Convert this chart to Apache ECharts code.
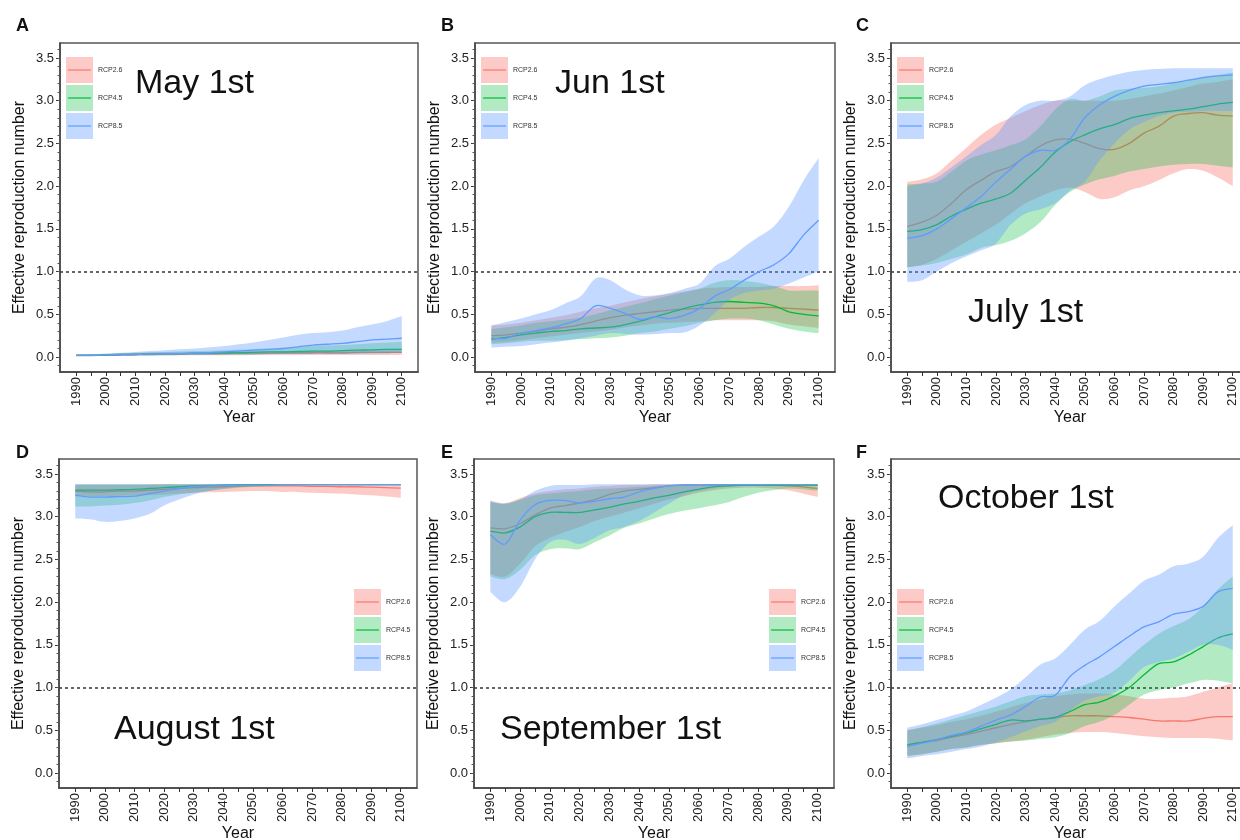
<!DOCTYPE html>
<html>
<head>
<meta charset="utf-8">
<script src="https://cdn.jsdelivr.net/npm/echarts@6/dist/echarts.min.js"></script>
<style>
  html, body { margin: 0; background: #fff; }
  #main { width: 1240px; height: 840px; }
</style>
</head>
<body>
<div id="main"></div>
<script>
// years sampled every 5 years
const years = [1990,1995,2000,2005,2010,2015,2020,2025,2030,2035,2040,2045,2050,2055,2060,2065,2070,2075,2080,2085,2090,2095,2100];
const xTicks = [1990,1995,2000,2005,2010,2015,2020,2025,2030,2035,2040,2045,2050,2055,2060,2065,2070,2075,2080,2085,2090,2095,2100];
const xLabels = [1990,2000,2010,2020,2030,2040,2050,2060,2070,2080,2090,2100];
const yLabels = [0,0.5,1,1.5,2,2.5,3,3.5];
const yMinor = [-0.1,0,0.1,0.2,0.3,0.4,0.5,0.6,0.7,0.8,0.9,1,1.1,1.2,1.3,1.4,1.5,1.6,1.7,1.8,1.9,2,2.1,2.2,2.3,2.4,2.5,2.6,2.7,2.8,2.9,3,3.1,3.2,3.3,3.4,3.5,3.6];
const scenarios = ['RCP2.6', 'RCP4.5', 'RCP8.5'];

// A - May 1st
const a26Mid = [0.02,0.02,0.02,0.025,0.03,0.03,0.035,0.035,0.04,0.04,0.04,0.045,0.045,0.045,0.05,0.05,0.05,0.05,0.05,0.055,0.055,0.055,0.055];
const a26Lo  = [0.01,0.01,0.015,0.015,0.015,0.02,0.02,0.02,0.02,0.02,0.02,0.02,0.025,0.025,0.025,0.025,0.025,0.025,0.025,0.025,0.025,0.025,0.025];
const a26Hi  = [0.03,0.03,0.035,0.04,0.045,0.05,0.055,0.055,0.06,0.06,0.065,0.065,0.065,0.07,0.07,0.07,0.075,0.075,0.075,0.075,0.08,0.08,0.08];
const a45Mid = [0.02,0.02,0.025,0.03,0.03,0.035,0.04,0.04,0.045,0.045,0.05,0.05,0.055,0.06,0.06,0.065,0.07,0.07,0.075,0.08,0.085,0.09,0.09];
const a45Lo  = [0.01,0.01,0.015,0.015,0.02,0.02,0.02,0.025,0.025,0.025,0.03,0.03,0.03,0.035,0.035,0.035,0.04,0.04,0.04,0.045,0.045,0.045,0.05];
const a45Hi  = [0.03,0.035,0.04,0.045,0.05,0.055,0.06,0.065,0.07,0.075,0.08,0.085,0.095,0.1,0.11,0.12,0.13,0.135,0.14,0.15,0.16,0.17,0.18];
const a85Mid = [0.02,0.02,0.025,0.03,0.03,0.035,0.04,0.04,0.045,0.05,0.06,0.07,0.08,0.09,0.1,0.12,0.14,0.15,0.16,0.18,0.2,0.21,0.22];
const a85Lo  = [0.01,0.01,0.015,0.015,0.02,0.02,0.02,0.025,0.025,0.025,0.03,0.03,0.03,0.035,0.035,0.035,0.04,0.04,0.04,0.04,0.045,0.045,0.05];
const a85Hi  = [0.03,0.035,0.04,0.05,0.06,0.07,0.08,0.09,0.1,0.115,0.13,0.15,0.17,0.2,0.23,0.26,0.28,0.29,0.31,0.35,0.38,0.42,0.48];

// B - Jun 1st
const b26Mid = [0.25,0.26,0.28,0.3,0.33,0.35,0.38,0.42,0.46,0.49,0.51,0.53,0.55,0.56,0.57,0.57,0.57,0.57,0.58,0.58,0.57,0.56,0.55];
const b26Lo  = [0.17,0.18,0.2,0.22,0.24,0.26,0.28,0.3,0.32,0.35,0.37,0.39,0.4,0.41,0.42,0.43,0.43,0.43,0.43,0.42,0.38,0.36,0.34];
const b26Hi  = [0.37,0.38,0.4,0.43,0.46,0.49,0.53,0.57,0.6,0.64,0.68,0.71,0.74,0.77,0.8,0.81,0.82,0.82,0.82,0.83,0.83,0.83,0.84];
const b45Mid = [0.21,0.23,0.26,0.28,0.3,0.31,0.33,0.34,0.35,0.38,0.42,0.47,0.52,0.57,0.61,0.64,0.65,0.64,0.63,0.6,0.53,0.5,0.48];
const b45Lo  = [0.15,0.16,0.18,0.19,0.19,0.2,0.21,0.22,0.23,0.25,0.28,0.3,0.33,0.36,0.4,0.43,0.45,0.45,0.43,0.38,0.33,0.3,0.28];
const b45Hi  = [0.33,0.35,0.37,0.4,0.42,0.44,0.46,0.5,0.55,0.59,0.63,0.68,0.72,0.76,0.8,0.87,0.9,0.89,0.87,0.83,0.78,0.78,0.78];
const b85Mid = [0.22,0.22,0.28,0.31,0.34,0.39,0.45,0.6,0.57,0.51,0.44,0.47,0.45,0.49,0.57,0.71,0.79,0.9,1.0,1.08,1.21,1.43,1.6];
const b85Lo  = [0.11,0.12,0.13,0.15,0.17,0.19,0.22,0.25,0.28,0.27,0.26,0.27,0.28,0.29,0.37,0.51,0.67,0.75,0.78,0.8,0.86,0.93,1.0];
const b85Hi  = [0.37,0.41,0.45,0.5,0.55,0.63,0.71,0.92,0.9,0.79,0.72,0.72,0.75,0.8,0.86,1.06,1.15,1.29,1.41,1.53,1.76,2.07,2.33];

// C - July 1st
const c26Mid = [1.53,1.58,1.66,1.8,1.96,2.07,2.17,2.23,2.35,2.47,2.54,2.55,2.5,2.44,2.43,2.5,2.62,2.7,2.82,2.85,2.86,2.83,2.82];
const c26Lo  = [1.05,1.08,1.15,1.25,1.35,1.45,1.55,1.68,1.8,1.88,1.95,1.98,1.93,1.85,1.87,1.95,2.0,2.07,2.15,2.2,2.18,2.1,2.0];
const c26Hi  = [2.05,2.08,2.15,2.3,2.45,2.6,2.72,2.8,2.88,2.95,3.0,3.0,3.0,3.0,3.0,3.02,3.05,3.08,3.12,3.16,3.2,3.22,3.25];
const c45Mid = [1.47,1.49,1.55,1.65,1.73,1.8,1.85,1.92,2.07,2.22,2.4,2.52,2.6,2.67,2.72,2.79,2.83,2.86,2.88,2.9,2.93,2.96,2.98];
const c45Lo  = [1.05,1.07,1.1,1.15,1.2,1.28,1.31,1.36,1.45,1.58,1.78,1.93,2.02,2.08,2.12,2.17,2.2,2.23,2.25,2.26,2.26,2.24,2.22];
const c45Hi  = [2.02,2.03,2.05,2.17,2.3,2.37,2.42,2.48,2.55,2.7,2.9,3.02,3.0,3.05,3.12,3.14,3.15,3.17,3.2,3.24,3.28,3.3,3.33];
const c85Mid = [1.39,1.42,1.5,1.62,1.75,1.88,2.05,2.2,2.35,2.42,2.42,2.55,2.8,2.95,3.05,3.12,3.17,3.19,3.21,3.24,3.27,3.29,3.3];
const c85Lo  = [0.88,0.9,1.0,1.1,1.18,1.25,1.33,1.55,1.68,1.73,1.8,1.95,2.05,2.3,2.5,2.66,2.75,2.82,2.86,2.87,2.88,2.88,2.88];
const c85Hi  = [2.0,2.03,2.1,2.22,2.35,2.48,2.6,2.82,2.95,3.0,3.0,3.05,3.18,3.25,3.3,3.34,3.36,3.37,3.38,3.38,3.38,3.38,3.38];

// D - August 1st
const d26Mid = [3.3,3.29,3.29,3.3,3.3,3.31,3.32,3.33,3.34,3.345,3.35,3.355,3.36,3.36,3.36,3.36,3.355,3.355,3.35,3.35,3.345,3.34,3.335];
const d26Lo  = [3.25,3.24,3.24,3.245,3.25,3.255,3.26,3.27,3.28,3.285,3.29,3.295,3.3,3.3,3.29,3.29,3.28,3.275,3.27,3.26,3.25,3.235,3.22];
const d26Hi  = [3.37,3.37,3.37,3.37,3.37,3.375,3.38,3.38,3.38,3.38,3.38,3.38,3.38,3.38,3.38,3.38,3.38,3.38,3.38,3.375,3.375,3.37,3.37];
const d45Mid = [3.31,3.31,3.31,3.315,3.32,3.33,3.34,3.35,3.36,3.365,3.37,3.375,3.375,3.375,3.375,3.375,3.375,3.375,3.375,3.375,3.375,3.375,3.375];
const d45Lo  = [3.12,3.12,3.13,3.14,3.16,3.19,3.23,3.26,3.28,3.3,3.32,3.34,3.35,3.36,3.37,3.37,3.37,3.37,3.37,3.37,3.37,3.37,3.37];
const d45Hi  = [3.38,3.38,3.38,3.38,3.38,3.38,3.38,3.38,3.38,3.38,3.38,3.38,3.38,3.38,3.38,3.38,3.38,3.38,3.38,3.38,3.38,3.38,3.38];
const d85Mid = [3.25,3.23,3.23,3.235,3.24,3.27,3.3,3.33,3.35,3.36,3.37,3.37,3.37,3.37,3.375,3.375,3.375,3.375,3.375,3.375,3.375,3.375,3.375];
const d85Lo  = [2.98,2.97,2.94,2.95,2.98,3.03,3.13,3.2,3.26,3.3,3.33,3.35,3.36,3.365,3.37,3.37,3.37,3.37,3.37,3.37,3.37,3.37,3.37];
const d85Hi  = [3.38,3.38,3.38,3.38,3.38,3.38,3.38,3.38,3.38,3.38,3.38,3.38,3.38,3.38,3.38,3.38,3.38,3.38,3.38,3.38,3.38,3.38,3.38];

// E - September 1st
const e26Mid = [2.87,2.86,2.92,3.02,3.1,3.13,3.16,3.2,3.26,3.3,3.32,3.34,3.36,3.37,3.37,3.37,3.37,3.37,3.37,3.37,3.36,3.35,3.33];
const e26Lo  = [2.33,2.3,2.45,2.65,2.75,2.82,2.88,2.95,3.0,3.05,3.1,3.15,3.2,3.24,3.28,3.31,3.33,3.34,3.34,3.33,3.31,3.27,3.23];
const e26Hi  = [3.18,3.16,3.22,3.27,3.3,3.32,3.33,3.35,3.36,3.37,3.37,3.38,3.38,3.38,3.38,3.38,3.38,3.38,3.38,3.38,3.38,3.38,3.38];
const e45Mid = [2.83,2.81,2.88,3.0,3.05,3.05,3.05,3.08,3.11,3.15,3.18,3.22,3.25,3.29,3.32,3.35,3.36,3.37,3.37,3.37,3.37,3.37,3.37];
const e45Lo  = [2.3,2.27,2.38,2.55,2.62,2.63,2.62,2.7,2.78,2.87,2.92,2.98,3.03,3.07,3.1,3.13,3.17,3.23,3.28,3.31,3.33,3.32,3.3];
const e45Hi  = [3.17,3.15,3.2,3.25,3.27,3.29,3.3,3.32,3.33,3.34,3.35,3.36,3.37,3.38,3.38,3.38,3.38,3.38,3.38,3.38,3.38,3.38,3.38];
const e85Mid = [2.79,2.68,2.96,3.14,3.19,3.19,3.16,3.18,3.21,3.23,3.29,3.33,3.36,3.37,3.37,3.375,3.375,3.375,3.375,3.375,3.375,3.375,3.375];
const e85Lo  = [2.12,2.0,2.18,2.5,2.7,2.73,2.68,2.75,2.84,2.88,2.95,3.05,3.15,3.25,3.3,3.33,3.35,3.36,3.36,3.37,3.37,3.37,3.37];
const e85Hi  = [3.19,3.15,3.2,3.3,3.36,3.37,3.37,3.38,3.38,3.38,3.38,3.38,3.38,3.38,3.38,3.38,3.38,3.38,3.38,3.38,3.38,3.38,3.38];

// F - October 1st
const f26Mid = [0.33,0.36,0.38,0.42,0.45,0.49,0.53,0.57,0.6,0.63,0.65,0.67,0.67,0.67,0.66,0.65,0.63,0.61,0.61,0.61,0.64,0.66,0.66];
const f26Lo  = [0.2,0.22,0.25,0.28,0.3,0.33,0.35,0.37,0.39,0.42,0.45,0.47,0.48,0.48,0.47,0.45,0.43,0.42,0.41,0.41,0.41,0.4,0.38];
const f26Hi  = [0.5,0.53,0.56,0.6,0.63,0.67,0.72,0.77,0.82,0.86,0.9,0.92,0.93,0.93,0.92,0.9,0.87,0.87,0.88,0.9,0.95,1.0,1.05];
const f45Mid = [0.33,0.36,0.39,0.43,0.47,0.52,0.57,0.62,0.61,0.63,0.65,0.72,0.8,0.83,0.9,1.0,1.15,1.28,1.3,1.38,1.48,1.58,1.63];
const f45Lo  = [0.2,0.22,0.25,0.28,0.3,0.33,0.35,0.37,0.38,0.4,0.42,0.47,0.55,0.6,0.68,0.8,0.92,0.97,1.0,1.05,1.09,1.08,1.05];
const f45Hi  = [0.5,0.54,0.58,0.63,0.68,0.73,0.78,0.84,0.9,0.92,0.93,0.97,1.03,1.1,1.2,1.35,1.5,1.63,1.72,1.8,1.95,2.15,2.3];
const f85Mid = [0.31,0.35,0.39,0.44,0.48,0.55,0.62,0.68,0.78,0.89,0.91,1.13,1.26,1.36,1.48,1.6,1.71,1.77,1.86,1.89,1.95,2.12,2.16];
const f85Lo  = [0.17,0.2,0.22,0.25,0.28,0.31,0.36,0.42,0.49,0.55,0.6,0.73,0.85,0.9,0.94,1.08,1.24,1.3,1.34,1.42,1.5,1.5,1.44];
const f85Hi  = [0.53,0.57,0.62,0.67,0.72,0.8,0.88,0.98,1.12,1.27,1.34,1.5,1.68,1.78,1.95,2.1,2.25,2.32,2.42,2.45,2.53,2.75,2.9];

const lineColors = ['#F8766D', '#00BA38', '#619CFF'];
const fillColors = ['rgba(248,118,109,0.38)', 'rgba(0,186,56,0.3)', 'rgba(97,156,255,0.38)'];
const FONT = 'Liberation Sans, Arial, sans-serif';
const GH = 329;

// layout of the 6 panels
const panels = [
  { letter: 'A', label: 'May 1st', data: [[a26Mid, a26Lo, a26Hi], [a45Mid, a45Lo, a45Hi], [a85Mid, a85Lo, a85Hi]],
    grid: [60, 43, 358], legend: [66, 57], text: [135, 84], letterPos: [16, 26] },
  { letter: 'B', label: 'Jun 1st', data: [[b26Mid, b26Lo, b26Hi], [b45Mid, b45Lo, b45Hi], [b85Mid, b85Lo, b85Hi]],
    grid: [475, 43, 360], legend: [481, 57], text: [555, 84], letterPos: [441, 26] },
  { letter: 'C', label: 'July 1st', data: [[c26Mid, c26Lo, c26Hi], [c45Mid, c45Lo, c45Hi], [c85Mid, c85Lo, c85Hi]],
    grid: [891, 43, 358], legend: [897, 57], text: [968, 313], letterPos: [856, 26] },
  { letter: 'D', label: 'August 1st', data: [[d26Mid, d26Lo, d26Hi], [d45Mid, d45Lo, d45Hi], [d85Mid, d85Lo, d85Hi]],
    grid: [59, 459, 358], legend: [354, 589], text: [114, 730], letterPos: [16, 453] },
  { letter: 'E', label: 'September 1st', data: [[e26Mid, e26Lo, e26Hi], [e45Mid, e45Lo, e45Hi], [e85Mid, e85Lo, e85Hi]],
    grid: [474, 459, 360], legend: [769, 589], text: [500, 730], letterPos: [441, 453] },
  { letter: 'F', label: 'October 1st', data: [[f26Mid, f26Lo, f26Hi], [f45Mid, f45Lo, f45Hi], [f85Mid, f85Lo, f85Hi]],
    grid: [891, 459, 358], legend: [897, 589], text: [938, 499], letterPos: [856, 453] }
];

// Catmull-Rom through pixel points -> cubic bezier segments
function curveTo(pts) {
  let d = '';
  for (let i = 0; i < pts.length - 1; i++) {
    const p0 = pts[Math.max(i - 1, 0)], p1 = pts[i], p2 = pts[i + 1], p3 = pts[Math.min(i + 2, pts.length - 1)];
    const c1x = p1[0] + (p2[0] - p0[0]) / 6, c1y = p1[1] + (p2[1] - p0[1]) / 6;
    const c2x = p2[0] - (p3[0] - p1[0]) / 6, c2y = p2[1] - (p3[1] - p1[1]) / 6;
    d += ' C' + c1x + ',' + c1y + ' ' + c2x + ',' + c2y + ' ' + p2[0] + ',' + p2[1];
  }
  return d;
}

function linePath(api, vals) {
  const pts = years.map((yr, j) => api.coord([yr, vals[j]]));
  return 'M' + pts[0][0] + ',' + pts[0][1] + curveTo(pts);
}

function ribbonPath(api, lo, hi) {
  const up = years.map((yr, j) => api.coord([yr, hi[j]]));
  const dn = years.map((yr, j) => api.coord([yr, lo[j]])).reverse();
  return 'M' + up[0][0] + ',' + up[0][1] + curveTo(up) +
         ' L' + dn[0][0] + ',' + dn[0][1] + curveTo(dn) + ' Z';
}

const grids = [], xAxes = [], yAxes = [], series = [], graphics = [];

panels.forEach((p, i) => {
  grids.push({
    left: p.grid[0], top: p.grid[1], width: p.grid[2], height: GH,
    show: true, borderColor: '#555', borderWidth: 1.5, backgroundColor: '#fff',
    containLabel: false, outerBoundsMode: 'none'
  });
  xAxes.push({
    type: 'value', gridIndex: i, min: 1984.5, max: 2105.5,
    name: 'Year', nameLocation: 'middle', nameGap: 37,
    nameTextStyle: { fontSize: 16, color: '#111', fontFamily: FONT },
    axisLine: { onZero: false, lineStyle: { color: '#444', width: 1.5 } },
    axisTick: { customValues: xTicks, length: 4, lineStyle: { color: '#333', width: 1 } },
    axisLabel: { customValues: xLabels, rotate: 90, margin: 5, fontSize: 13, color: '#222', fontFamily: FONT,
                 formatter: v => String(Math.round(v)) },
    splitLine: { show: false }
  });
  yAxes.push({
    type: 'value', gridIndex: i, min: -0.175, max: 3.675, position: 'left',
    name: 'Effective reproduction number', nameLocation: 'middle', nameGap: 32,
    nameTextStyle: { fontSize: 16, color: '#111', fontFamily: FONT },
    axisLine: { onZero: false, lineStyle: { color: '#444', width: 1.5 } },
    axisTick: { customValues: yLabels, length: 4, lineStyle: { color: '#333', width: 1 } },
    axisLabel: { customValues: yLabels, margin: 6, fontSize: 13, color: '#222', fontFamily: FONT,
                 formatter: v => Number(v).toFixed(1) },
    splitLine: { show: false }
  });
  // minor ticks
  yAxes.push({
    type: 'value', gridIndex: i, min: -0.175, max: 3.675, position: 'left', offset: 0,
    axisLine: { show: false, onZero: false },
    axisTick: { customValues: yMinor, length: 2.5, lineStyle: { color: '#555', width: 1 } },
    axisLabel: { show: false },
    splitLine: { show: false }
  });

  // mean line then its ribbon, per scenario (ribbons sit over the lines)
  p.data.forEach(([mid, lo, hi], k) => {
    series.push({
      type: 'custom', xAxisIndex: i, yAxisIndex: 2 * i, silent: true, clip: true, z: 2 + 2 * k,
      data: [[years[0], mid[0]]], encode: { x: 0, y: 1 },
      renderItem: (params, api) => ({
        type: 'path', shape: { pathData: linePath(api, mid) },
        style: { fill: 'none', stroke: lineColors[k], lineWidth: 1.3 }
      })
    });
    series.push({
      type: 'custom', xAxisIndex: i, yAxisIndex: 2 * i, silent: true, clip: true, z: 3 + 2 * k,
      data: [[years[0], lo[0]]], encode: { x: 0, y: 1 },
      renderItem: (params, api) => ({
        type: 'path', shape: { pathData: ribbonPath(api, lo, hi) },
        style: { fill: fillColors[k], stroke: 'none' }
      })
    });
  });

  // threshold R = 1
  series.push({
    type: 'line', xAxisIndex: i, yAxisIndex: 2 * i, silent: true, z: 10,
    data: years.map((yr, j) => [yr, p.data[0][0][j]]),
    showSymbol: false, lineStyle: { opacity: 0, width: 0 },
    markLine: {
      silent: true, symbol: ['none', 'none'], label: { show: false },
      lineStyle: { color: '#333', type: [3, 3], width: 1.5 },
      data: [{ yAxis: 1 }]
    }
  });

  // legend keys
  scenarios.forEach((name, k) => {
    const x0 = p.legend[0], y0 = p.legend[1] + k * 28;
    graphics.push({ type: 'rect', z: 100, silent: true,
      shape: { x: x0, y: y0, width: 27, height: 26 }, style: { fill: fillColors[k] } });
    graphics.push({ type: 'line', z: 101, silent: true,
      shape: { x1: x0 + 2, y1: y0 + 13, x2: x0 + 25, y2: y0 + 13 },
      style: { stroke: lineColors[k], lineWidth: 1.2 } });
    graphics.push({ type: 'text', z: 101, silent: true, x: x0 + 32, y: y0 + 13,
      style: { text: name, fontSize: 7, fill: '#333', fontFamily: FONT, verticalAlign: 'middle' } });
  });
  // panel label
  graphics.push({ type: 'text', z: 101, silent: true, x: p.text[0], y: p.text[1],
    style: { text: p.label, fontSize: 34, fill: '#111', fontFamily: FONT, verticalAlign: 'middle' } });
  // panel letter
  graphics.push({ type: 'text', z: 101, silent: true, x: p.letterPos[0], y: p.letterPos[1],
    style: { text: p.letter, fontSize: 18, fontWeight: 'bold', fill: '#111', fontFamily: FONT, verticalAlign: 'middle' } });
});

const chart = echarts.init(document.getElementById('main'));
chart.setOption({
  animation: false,
  backgroundColor: '#fff',
  grid: grids,
  xAxis: xAxes,
  yAxis: yAxes,
  series: series,
  graphic: { elements: graphics }
});
</script>
</body>
</html>
